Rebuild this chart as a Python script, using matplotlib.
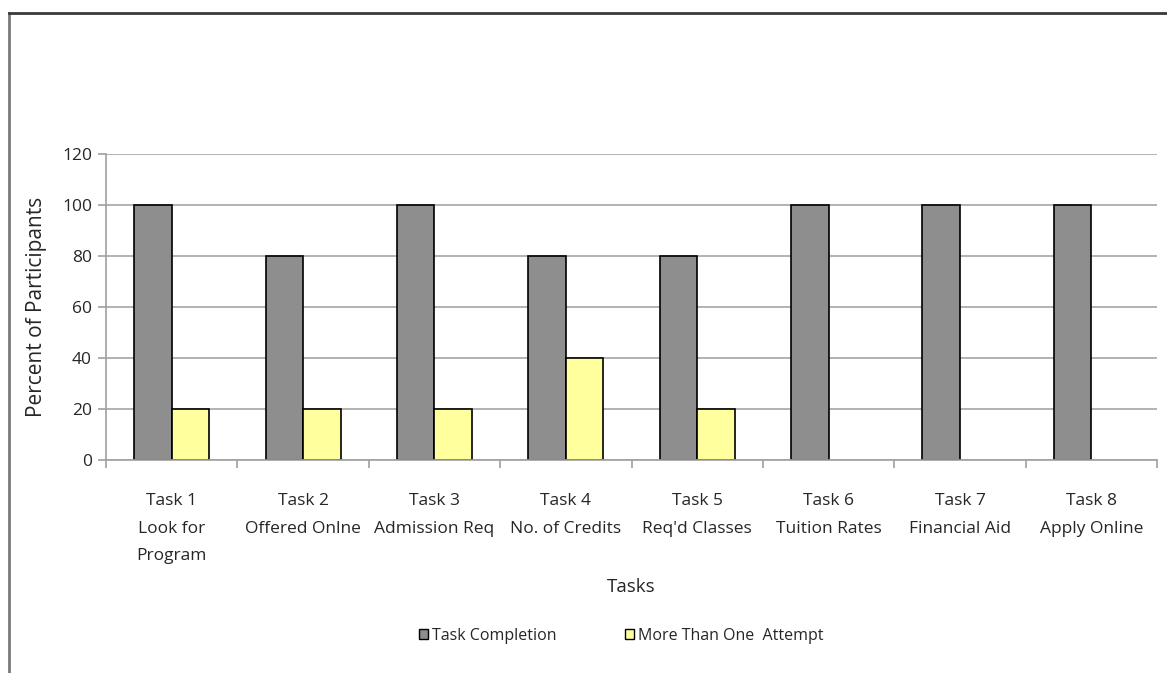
import numpy as np
import matplotlib
matplotlib.use('Agg')
import matplotlib.pyplot as plt
from matplotlib.lines import Line2D
from matplotlib.patches import Patch

plt.rcParams['font.family'] = ['Open Sans', 'DejaVu Sans']

tasks = ['Task 1\nLook for\nProgram', 'Task 2\nOffered Onlne', 'Task 3\nAdmission Req',
         'Task 4\nNo. of Credits', "Task 5\nReq'd Classes", 'Task 6\nTuition Rates',
         'Task 7\nFinancial Aid', 'Task 8\nApply Online']
completion = [100, 80, 100, 80, 80, 100, 100, 100]
more_attempts = [20, 20, 20, 40, 20, 0, 0, 0]

gray = '#8e8e8e'
yellow = '#ffff9e'
text_col = '#262626'

fig = plt.figure(figsize=(11.67, 6.73), dpi=100)
ax = fig.add_axes([106 / 1167, 1 - 460 / 673, 1051 / 1167, 306 / 673])

x = np.arange(len(tasks))
w = 1 / 3.5


def edges(vals):
    # empty bars get no outline
    return ['black' if v > 0 else 'none' for v in vals]


ax.bar(x - w / 2, completion, w, color=gray, edgecolor=edges(completion), linewidth=1.2, zorder=3)
ax.bar(x + w / 2, more_attempts, w, color=yellow, edgecolor=edges(more_attempts), linewidth=1.2, zorder=3)

ax.set_xlim(-0.5, len(tasks) - 0.5)
ax.set_ylim(0, 120)
ax.set_yticks(range(0, 121, 20))
ax.yaxis.grid(True, color='#a6a6a6', linewidth=1.2, zorder=0)
for s in ['top', 'right']:
    ax.spines[s].set_visible(False)
for s in ['left', 'bottom']:
    ax.spines[s].set_color('#a0a0a0')
    ax.spines[s].set_linewidth(1.2)
    ax.spines[s].set_zorder(4)

# category labels sit between boundary ticks
ax.set_xticks(np.arange(len(tasks) + 1) - 0.5)
ax.set_xticklabels([])
ax.set_xticks(x, minor=True)
ax.set_xticklabels(tasks, minor=True, fontsize=12.5, color=text_col, linespacing=1.95)
ax.tick_params(axis='x', which='major', length=6, color='#a0a0a0', width=1.2)
ax.tick_params(axis='x', which='minor', length=0, pad=24)
ax.tick_params(axis='y', length=6, color='#a0a0a0', width=1.2, labelsize=12.5,
               labelcolor=text_col, pad=4)

ax.set_ylabel('Percent of Participants', fontsize=15, color=text_col, labelpad=11)
ax.set_xlabel('Tasks', fontsize=13.5, color=text_col, labelpad=10)

handles = [Patch(facecolor=gray, edgecolor='black', label='Task Completion'),
           Patch(facecolor=yellow, edgecolor='black', label='More Than One  Attempt')]
fig.legend(handles=handles, loc='center', bbox_to_anchor=(621 / 1167, 1 - 636 / 673),
           ncol=2, frameon=False, fontsize=11.5, handlelength=0.6, handleheight=0.6,
           handletextpad=0.2, columnspacing=4.3, labelcolor=text_col)

# chart-area border along the left and top
fig.add_artist(Line2D([9 / 1167, 9 / 1167], [0, 1 - 13 / 673], transform=fig.transFigure,
                      color='#7a7a7a', linewidth=2))
fig.add_artist(Line2D([9 / 1167, 1], [1 - 13 / 673, 1 - 13 / 673], transform=fig.transFigure,
                      color='#3a3a3a', linewidth=2))

fig.savefig('out.png', dpi=100)
